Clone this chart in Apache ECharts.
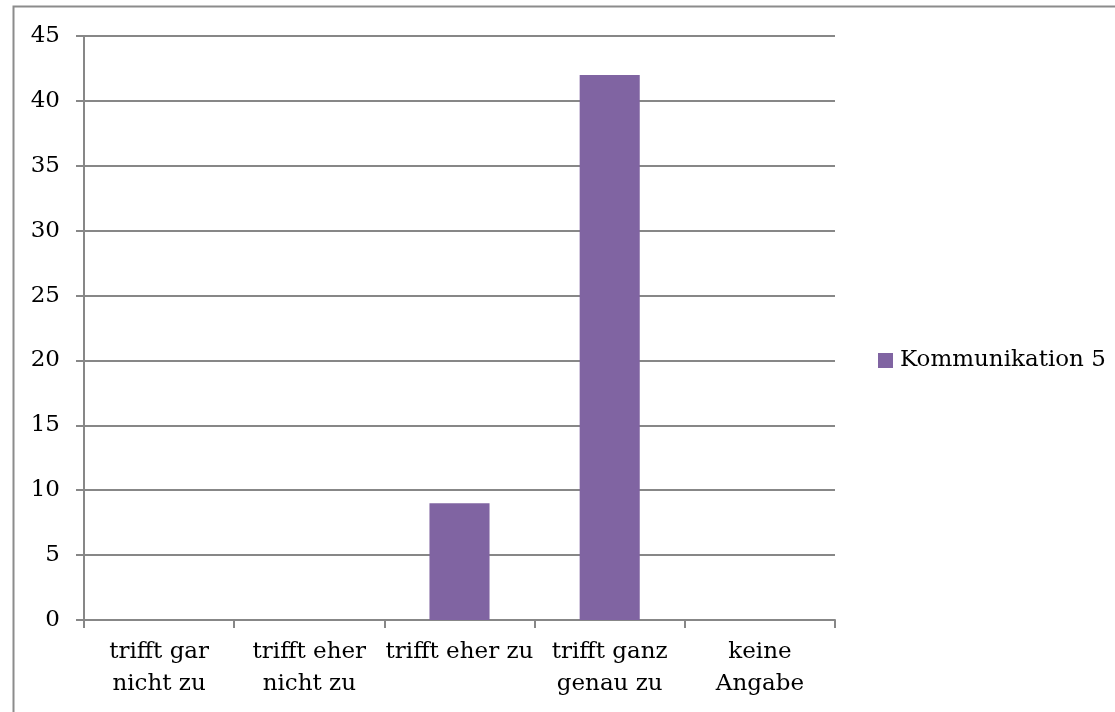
<!DOCTYPE html>
<html><head><meta charset="utf-8">
<script src="https://cdn.jsdelivr.net/npm/echarts@6/dist/echarts.min.js"></script>
<style>html,body{margin:0;padding:0;background:#fff}#c{width:1115px;height:712px}</style>
</head><body><div id="c"></div>
<script>
const categories = ["trifft gar\nnicht zu", "trifft eher\nnicht zu", "trifft eher zu", "trifft ganz\ngenau zu", "keine\nAngabe"];
const seriesName = "Kommunikation 5";
const values = [0, 0, 9, 42, 0];
const yMin = 0, yMax = 45, yStep = 5;

const FONT = "DejaVu Serif";
const FS = 23;
const chart = echarts.init(document.getElementById('c'), null, {renderer: 'canvas'});
chart.setOption({
  animation: false,
  backgroundColor: '#fff',
  textStyle: {fontFamily: FONT},
  graphic: [{type: 'rect', shape: {x: 13.5, y: 6.5, width: 1120, height: 720},
    style: {fill: 'none', stroke: '#8c8c8c', lineWidth: 2}, silent: true}],
  grid: {left: 84, right: 280, top: 36, bottom: 92, containLabel: false},
  legend: {
    orient: 'vertical', left: 878, top: 349, padding: 0, itemWidth: 15, itemHeight: 15, itemGap: 6,
    icon: 'rect',
    textStyle: {fontFamily: FONT, fontSize: FS, color: '#000', padding: [0, 0, 0, 2]},
    data: [seriesName]
  },
  xAxis: {
    type: 'category', data: categories,
    axisLine: {lineStyle: {color: '#878787', width: 2}},
    axisTick: {show: true, length: 8, alignWithLabel: false, lineStyle: {color: '#878787', width: 2}},
    axisLabel: {color: '#000', fontFamily: FONT, fontSize: FS, lineHeight: 32, margin: 16, interval: 0}
  },
  yAxis: {
    type: 'value', min: yMin, max: yMax, interval: yStep,
    axisLine: {show: true, lineStyle: {color: '#878787', width: 2}},
    axisTick: {show: true, length: 8, lineStyle: {color: '#878787', width: 2}},
    splitLine: {lineStyle: {color: '#878787', width: 2}},
    axisLabel: {color: '#000', fontFamily: FONT, fontSize: FS, margin: 24}
  },
  series: [{
    type: 'bar', name: seriesName, data: values, barWidth: '40%',
    itemStyle: {color: '#8064A2'}
  }]
});
</script></body></html>
